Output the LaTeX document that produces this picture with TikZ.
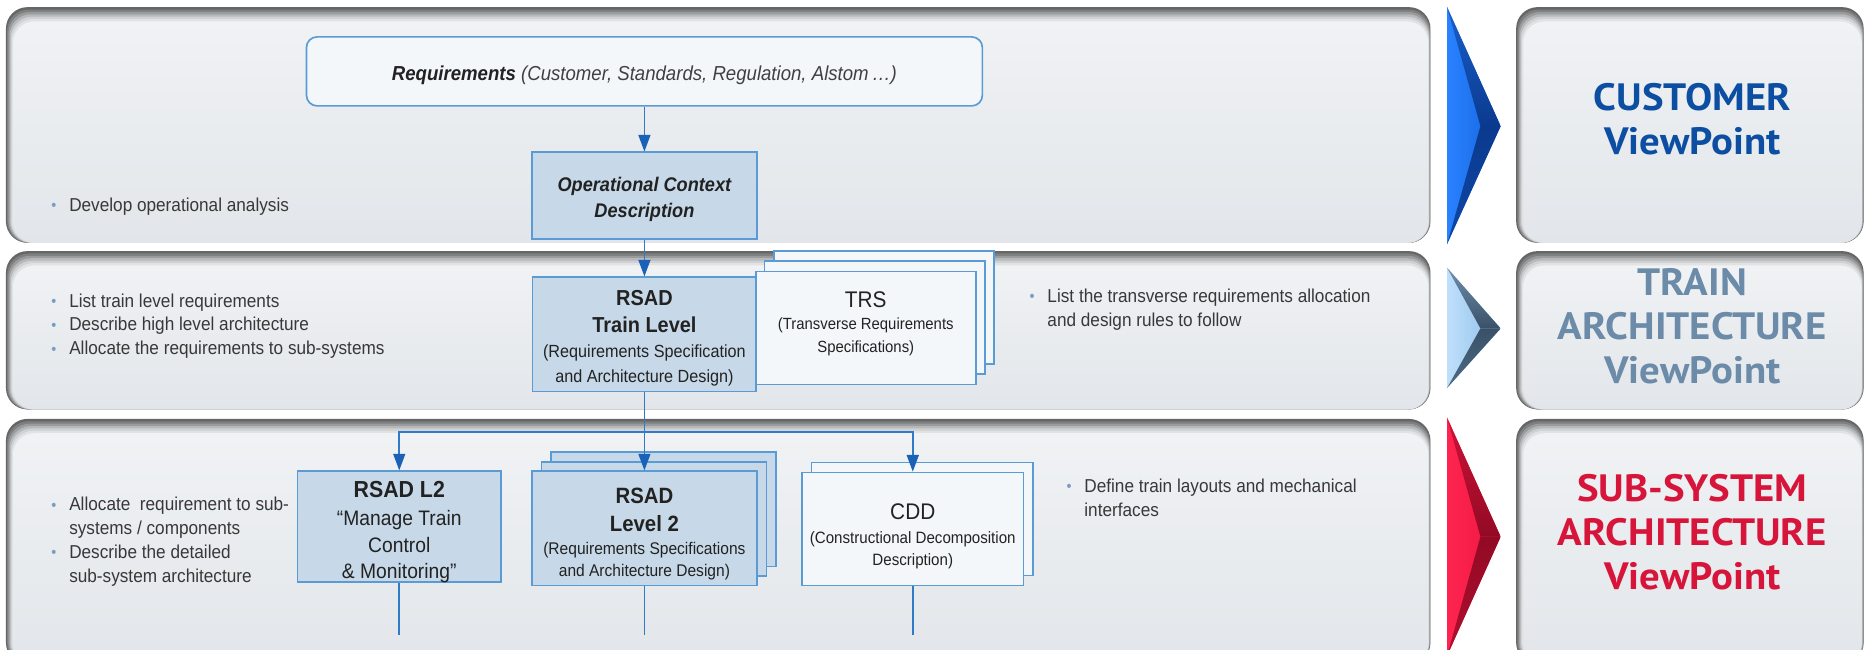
\documentclass[tikz,border=0pt]{standalone}
\usepackage{fontspec}
\setmainfont{Liberation Sans}
\newfontfamily\nf[FakeStretch=0.92]{Liberation Sans}
\newfontfamily\vpf[FakeStretch=1.07]{PT Sans}
\usetikzlibrary{arrows.meta}
\definecolor{bordc}{HTML}{5B9BD5}
\definecolor{connc}{HTML}{2F7BC8}
\definecolor{headc}{HTML}{1A62B8}
\definecolor{bluefill}{HTML}{C7D9E8}
\definecolor{whitefill}{HTML}{F4F7FA}
\definecolor{txt}{HTML}{222222}
\definecolor{bultxt}{HTML}{383838}
\definecolor{bulc}{HTML}{7A9CC0}
\definecolor{custc}{HTML}{0B4EA2}
\definecolor{trainc}{HTML}{6B8BA8}
\definecolor{subc}{HTML}{D7153A}
\definecolor{sh0}{HTML}{666666}
\definecolor{sh1}{HTML}{7E7F80}
\definecolor{sh2}{HTML}{9A9B9D}
\definecolor{sh3}{HTML}{B6B8BA}
\definecolor{sh4}{HTML}{CFD1D3}
\definecolor{sh5}{HTML}{E0E2E4}
\definecolor{ptop}{HTML}{F0F2F4}
\definecolor{pbot}{HTML}{E2E6EA}
% chevron colours
\definecolor{bA}{HTML}{2A82FF}
\definecolor{bB}{HTML}{1463DC}
\definecolor{bC}{HTML}{1A5FCC}
\definecolor{bD}{HTML}{0A3A8E}
\definecolor{bE}{HTML}{0E47A6}
\definecolor{sA}{HTML}{BFE0FC}
\definecolor{sB}{HTML}{8DBCE6}
\definecolor{sC}{HTML}{6E8FAD}
\definecolor{sD}{HTML}{3A5168}
\definecolor{sE}{HTML}{4C6A86}
\definecolor{rA}{HTML}{FF2450}
\definecolor{rB}{HTML}{EC1742}
\definecolor{rC}{HTML}{D01236}
\definecolor{rD}{HTML}{920A25}
\definecolor{rE}{HTML}{B00E2E}
\newcommand\shpanel[4]{%
 \fill[sh0,rounded corners=18pt] (#1,#2) rectangle (#3,#4);
 \fill[sh1,rounded corners=18pt] ({#1+1},{#2+2}) rectangle ({#3-0.3},#4);
 \fill[sh2,rounded corners=18pt] ({#1+2},{#2+4}) rectangle ({#3-0.6},#4);
 \fill[sh3,rounded corners=18pt] ({#1+3},{#2+6}) rectangle ({#3-0.9},#4);
 \fill[sh4,rounded corners=18pt] ({#1+4},{#2+8}) rectangle ({#3-1.2},#4);
 \fill[sh5,rounded corners=18pt] ({#1+5},{#2+10}) rectangle ({#3-1.5},#4);
 \shade[top color=ptop,bottom color=pbot,rounded corners=18pt] ({#1+6},{#2+12}) rectangle ({#3-1.8},#4);
}
% chevron: #1 top y, #2 tip y, #3 bottom y, #4 colour prefix
\newcommand\chev[4]{%
 \shade[left color=#4A, right color=#4B] (1216,#1) -- (1261,#2) -- (1216,#3) -- cycle;
 \shade[top color=#4C, bottom color=#4D] (1216,#1) -- (1261,#2) -- (1244,#2) -- cycle;
 \shade[top color=#4D, bottom color=#4E] (1244,#2) -- (1261,#2) -- (1216,#3) -- cycle;
}
\newcommand\bl{\makebox[15pt][l]{\textcolor{bulc}{\fontsize{13}{13}\selectfont\raisebox{0.5pt}{•}}}}
\tikzset{
 box/.style={draw=bordc, line width=1.4pt, inner sep=0pt, align=center, text=txt},
 bbox/.style={box, fill=bluefill},
 wbox/.style={box, fill=whitefill},
 conn/.style={draw=connc, line width=1.5pt},
 arr/.style={conn, -{Triangle[length=14pt,width=10pt,color=headc]}},
 blt/.style={anchor=west, align=left, inner sep=0pt, text=bultxt, font=\nf\fontsize{15.7}{20}\selectfont},
 vp/.style={font=\vpf\bfseries\fontsize{32}{37}\selectfont, align=center, inner sep=0pt}
}
\begin{document}
\begin{tikzpicture}[x=1pt,y=-1pt]
\useasboundingbox (0,0) rectangle (1568,546);
\clip (0,0) rectangle (1568,546);
\fill[white] (0,0) rectangle (1568,546);
% panels
\shpanel{5}{6}{1202}{204}
\shpanel{5}{211}{1202}{344}
\shpanel{5}{352}{1202}{558}
\shpanel{1274}{6}{1566}{204}
\shpanel{1274}{211}{1566}{344}
\shpanel{1274}{352}{1566}{558}
% chevrons
\chev{6}{106}{205}{b}
\chev{225}{276}{326}{s}
\chev{351}{451}{551}{r}
% viewpoint labels
\node[vp, text=custc] (cust) at (1422,100) {CUSTOMER\\ViewPoint};
\node[vp, text=trainc] (train) at (1422,274) {TRAIN\\ARCHITECTURE\\ViewPoint};
\node[vp, text=subc] (sub) at (1422,447) {SUB-SYSTEM\\ARCHITECTURE\\ViewPoint};
% boxes
\node[wbox, rounded corners=9pt, minimum width=568pt, minimum height=58pt, font=\nf\fontsize{17}{20}\selectfont] (req) at (541.5,60)
 {\rule{0pt}{18.4pt}{\bfseries\itshape Requirements} {\itshape\color{black!75} (Customer, Standards, Regulation, Alstom\,…)}};
\node[bbox, minimum width=189pt, minimum height=73pt, font=\nf\bfseries\itshape\fontsize{16.6}{21.5}\selectfont] (ocd) at (541.5,164.5)
 {\rule{0pt}{18.2pt}Operational Context\\Description};
\node[bbox, minimum width=188pt, minimum height=96pt, font=\nf\fontsize{14.8}{21}\selectfont] (rtl) at (541.5,281)
 {\rule{0pt}{19.1pt}{\fontsize{18.2}{20}\selectfont\bfseries RSAD}\\[1.4pt]{\fontsize{18.2}{20}\selectfont\bfseries Train Level}\\[-0.4pt](Requirements Specification\\and Architecture Design)};
\node[wbox, minimum width=185pt, minimum height=95pt] (trs3) at (743,258.5) {};
\node[wbox, minimum width=185pt, minimum height=95pt] (trs2) at (735,267) {};
\node[wbox, minimum width=185pt, minimum height=95pt, font=\nf\fontsize{13.6}{19}\selectfont] (trs) at (727.5,275.5)
 {{\fontsize{19}{20}\selectfont TRS}\\[-0.8pt](Transverse Requirements\\Specifications)\rule[-9.9pt]{0pt}{1pt}};
\node[bbox, minimum width=171pt, minimum height=93pt] (l2m) at (335.5,442.5) {};
\node[anchor=north, align=center, inner sep=0pt, text=txt, font=\nf\fontsize{17.6}{22.3}\selectfont] (l2mt) at (335.5,404.5)
 {{\bfseries\fontsize{19.5}{20}\selectfont RSAD L2}\\[1.2pt]“Manage Train\\Control\\[0.1pt]\& Monitoring”};
\node[bbox, minimum width=189pt, minimum height=96pt] (l2c) at (557.5,428) {};
\node[bbox, minimum width=189pt, minimum height=96pt] (l2b) at (549.5,436) {};
\node[bbox, minimum width=189pt, minimum height=96pt, font=\nf\fontsize{14.2}{19.5}\selectfont] (l2) at (541.5,444)
 {\rule{0pt}{22pt}{\bfseries\fontsize{18.6}{20}\selectfont RSAD}\\[4.5pt]{\bfseries\fontsize{18.6}{20}\selectfont Level 2}\\(Requirements Specifications\\[-1.4pt]and Architecture Design)};
\node[wbox, minimum width=186pt, minimum height=95pt] (cddb) at (775,436) {};
\node[wbox, minimum width=186pt, minimum height=95pt, font=\nf\fontsize{13.8}{18.5}\selectfont] (cdd) at (767,444.5)
 {\rule{0pt}{25.6pt}{\fontsize{19}{20}\selectfont CDD}\\[1pt](Constructional Decomposition\\Description)};
% connectors
\coordinate (j) at (541.5,363);
\coordinate (e1) at (335.5,534);
\coordinate (e2) at (541.5,534);
\coordinate (e3) at (767,534);
\draw[arr] (req) -- (ocd);
\draw[arr] (ocd) -- (rtl);
\draw[arr] (rtl) -- (l2);
\draw[arr] (j) -| (l2m);
\draw[arr] (j) -| (cdd);
\draw[conn] (l2m) -- (e1);
\draw[conn] (l2) -- (e2);
\draw[conn] (cdd) -- (e3);
% bullet texts
\node[blt] (b1) at (43,173.5) {\bl Develop operational analysis};
\node[blt] (b2) at (43,274) {\bl List train level requirements\\\bl Describe high level architecture\\\bl Allocate the requirements to sub-systems};
\node[blt] (b3) at (43,455) {\bl Allocate\hspace{4pt} requirement to sub-\\\hspace*{15pt}systems / components\\\bl Describe the detailed\\\hspace*{15pt}sub-system architecture};
\node[blt] (b4) at (865,260) {\bl List the transverse requirements allocation\\\hspace*{15pt}and design rules to follow};
\node[blt] (b5) at (896,418) {\bl Define train layouts and mechanical\\\hspace*{15pt}interfaces};
\end{tikzpicture}
\end{document}
